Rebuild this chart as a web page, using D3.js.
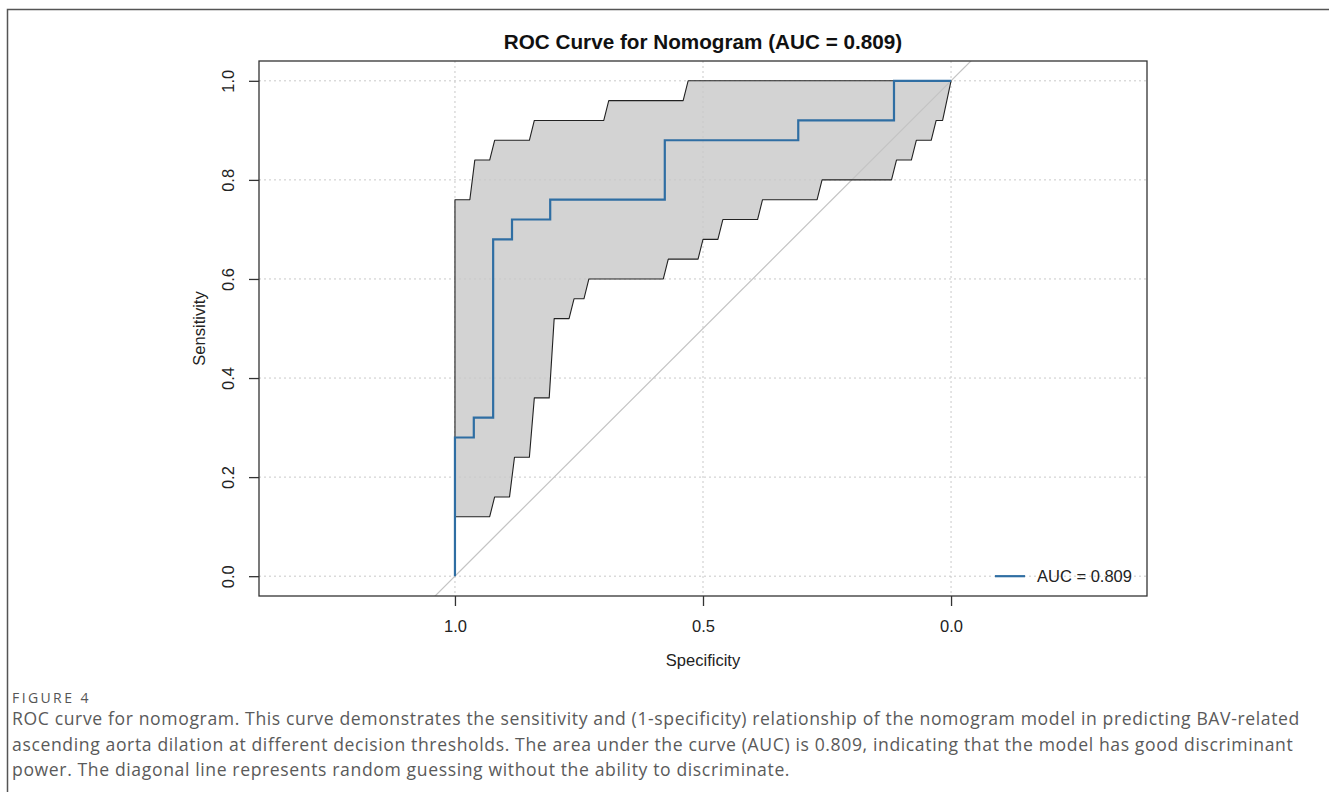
<!DOCTYPE html>
<html>
<head>
<meta charset="utf-8">
<script src="https://cdn.jsdelivr.net/npm/d3@7"></script>
<style>
  body { margin: 0; background: #fff; }
  svg { display: block; }
</style>
</head>
<body>
<div id="chart"></div>
<script>
// ROC curve vertices (specificity, sensitivity), drawn as steps
var rocSpec = [1, 0.962, 0.923, 0.885, 0.808, 0.577, 0.308, 0.115, 0]
var rocSens = [0, 0.28, 0.32, 0.68, 0.72, 0.76, 0.88, 0.92, 1.0]

// confidence band, upper edge (spec going 1 -> 0)
var upperSpec = [1, 0.97, 0.96, 0.93, 0.92, 0.85, 0.84, 0.70, 0.69, 0.54, 0.53, 0]
var upperSens = [0.76, 0.76, 0.84, 0.84, 0.88, 0.88, 0.92, 0.92, 0.96, 0.96, 1.0, 1.0]

// confidence band, lower edge (spec going 1 -> 0)
var lowerSpec = [1, 0.93, 0.92, 0.89, 0.88, 0.85, 0.84, 0.81, 0.80, 0.77, 0.76, 0.74, 0.73,
                 0.58, 0.57, 0.51, 0.50, 0.47, 0.46, 0.39, 0.38, 0.27, 0.26, 0.12, 0.11,
                 0.08, 0.07, 0.04, 0.03, 0.017, 0]
var lowerSens = [0.12, 0.12, 0.16, 0.16, 0.24, 0.24, 0.36, 0.36, 0.52, 0.52, 0.56, 0.56, 0.60,
                 0.60, 0.64, 0.64, 0.68, 0.68, 0.72, 0.72, 0.76, 0.76, 0.80, 0.80, 0.84,
                 0.84, 0.88, 0.88, 0.92, 0.92, 1.0]

var xTicks = [1.0, 0.5, 0.0]
var yTicks = [0.0, 0.2, 0.4, 0.6, 0.8, 1.0]
var aucLabel = "AUC = 0.809"

var caption = [
  "ROC curve for nomogram. This curve demonstrates the sensitivity and (1-specificity) relationship of the nomogram model in predicting BAV-related",
  "ascending aorta dilation at different decision thresholds. The area under the curve (AUC) is 0.809, indicating that the model has good discriminant",
  "power. The diagonal line represents random guessing without the ability to discriminate."
]

var W = 1329, H = 792
var plot = {left: 259, right: 1147, top: 61, bottom: 596}
var blue = "#2f6ea3"
var font = "'Liberation Sans', Arial, sans-serif"

var svg = d3.select("#chart").append("svg")
    .attr("width", W)
    .attr("height", H)

// outer figure frame (top + left)
svg.append("path")
  .attr("d", "M7.5," + H + "V9.5H" + W)
  .attr("fill", "none")
  .attr("stroke", "#555")
  .attr("stroke-width", 1.5)

// x is reversed: specificity 1 on the left
var x = d3.scaleLinear()
  .domain([1.395, -0.395])
  .range([plot.left, plot.right])
var y = d3.scaleLinear()
  .domain([-0.04, 1.04])
  .range([plot.bottom, plot.top])

svg.append("clipPath").attr("id", "clip")
  .append("rect")
    .attr("x", plot.left).attr("y", plot.top)
    .attr("width", plot.right - plot.left)
    .attr("height", plot.bottom - plot.top)

// band polygon: upper edge forward, lower edge back
var band = []
for (var i = 0; i < upperSpec.length; i++) band.push([upperSpec[i], upperSens[i]])
for (var j = lowerSpec.length - 1; j >= 0; j--) band.push([lowerSpec[j], lowerSens[j]])

var lineXY = d3.line()
  .x(function(d) { return x(d[0]) })
  .y(function(d) { return y(d[1]) })

svg.append("path")
  .datum(band)
  .attr("d", function(d) { return lineXY(d) + "Z" })
  .attr("fill", "#d3d3d3")

// dotted grid
var grid = svg.append("g")
grid.selectAll(".gx").data(xTicks).enter().append("line")
  .attr("x1", function(d) { return x(d) }).attr("x2", function(d) { return x(d) })
  .attr("y1", plot.top).attr("y2", plot.bottom)
grid.selectAll(".gy").data(yTicks).enter().append("line")
  .attr("y1", function(d) { return y(d) }).attr("y2", function(d) { return y(d) })
  .attr("x1", plot.left).attr("x2", plot.right)
grid.selectAll("line")
  .attr("stroke", "#c9c9c9")
  .attr("stroke-width", 1)
  .attr("stroke-dasharray", "2,3")

// chance diagonal
svg.append("line")
  .attr("clip-path", "url(#clip)")
  .attr("x1", x(1.5)).attr("y1", y(-0.5))
  .attr("x2", x(-0.5)).attr("y2", y(1.5))
  .attr("stroke", "#c4c4c4")
  .attr("stroke-width", 1.2)

// band outline on top of the grid
svg.append("path")
  .datum(band)
  .attr("d", function(d) { return lineXY(d) + "Z" })
  .attr("fill", "none")
  .attr("stroke", "#222")
  .attr("stroke-width", 1.1)
  .attr("stroke-linejoin", "round")

// ROC curve
var roc = rocSpec.map(function(s, k) { return [s, rocSens[k]] })
svg.append("path")
  .datum(roc)
  .attr("d", lineXY.curve(d3.curveStepBefore))
  .attr("fill", "none")
  .attr("stroke", blue)
  .attr("stroke-width", 2.2)

// axes
var xAxis = svg.append("g")
  .attr("transform", "translate(0," + plot.bottom + ")")
  .call(d3.axisBottom(x).tickValues(xTicks).tickFormat(d3.format(".1f")).tickSize(10).tickPadding(14))
var yAxis = svg.append("g")
  .attr("transform", "translate(" + plot.left + ",0)")
  .call(d3.axisLeft(y).tickValues(yTicks).tickFormat(d3.format(".1f")).tickSize(10))
svg.selectAll(".domain").remove()
svg.selectAll(".tick line").attr("stroke", "#333").attr("stroke-width", 1.3)
svg.selectAll(".tick text")
  .attr("font-family", font)
  .attr("font-size", 16.5)
  .attr("fill", "#222")
yAxis.selectAll(".tick text")
  .attr("transform", "rotate(-90)")
  .attr("text-anchor", "middle")
  .attr("x", 0)
  .attr("y", -31)
  .attr("dy", "0.35em")

// box around plot
svg.append("rect")
  .attr("x", plot.left).attr("y", plot.top)
  .attr("width", plot.right - plot.left)
  .attr("height", plot.bottom - plot.top)
  .attr("fill", "none")
  .attr("stroke", "#333")
  .attr("stroke-width", 1.3)

// titles
svg.append("text")
  .attr("x", (plot.left + plot.right) / 2).attr("y", 49)
  .attr("text-anchor", "middle")
  .attr("font-family", font).attr("font-size", 20.7).attr("font-weight", "bold")
  .attr("fill", "#111")
  .text("ROC Curve for Nomogram (" + aucLabel + ")")
svg.append("text")
  .attr("x", (plot.left + plot.right) / 2).attr("y", 666)
  .attr("text-anchor", "middle")
  .attr("font-family", font).attr("font-size", 16.5).attr("fill", "#222")
  .text("Specificity")
svg.append("text")
  .attr("transform", "translate(199," + (plot.top + plot.bottom) / 2 + ") rotate(-90)")
  .attr("text-anchor", "middle")
  .attr("dy", "0.35em")
  .attr("font-family", font).attr("font-size", 16.5).attr("fill", "#222")
  .text("Sensitivity")

// legend
svg.append("line")
  .attr("x1", 995).attr("x2", 1025)
  .attr("y1", y(0)).attr("y2", y(0))
  .attr("stroke", blue).attr("stroke-width", 2.2)
svg.append("text")
  .attr("x", 1037).attr("y", y(0))
  .attr("dy", "0.35em")
  .attr("font-family", font).attr("font-size", 16.5).attr("fill", "#222")
  .text(aucLabel)

// figure caption
svg.append("text")
  .attr("x", 12).attr("y", 703)
  .attr("font-family", "'Open Sans', sans-serif").attr("font-size", 14)
  .attr("letter-spacing", 2.4)
  .attr("fill", "#555")
  .text("FIGURE 4")
var capLines = svg.selectAll(".cap").data(caption).enter().append("text")
  .attr("x", 12)
  .attr("y", function(d, k) { return 725 + k * 25.5 })
  .attr("font-family", "'Open Sans', sans-serif").attr("font-size", 17.6)
  .attr("fill", "#5a5a5a")
  .text(function(d) { return d })
// spread letters so the first line runs to the right margin, like the reference
var first = capLines.node()
var spacing = (1288 - first.getComputedTextLength()) / caption[0].length
capLines.attr("letter-spacing", spacing)
</script>
</body>
</html>
